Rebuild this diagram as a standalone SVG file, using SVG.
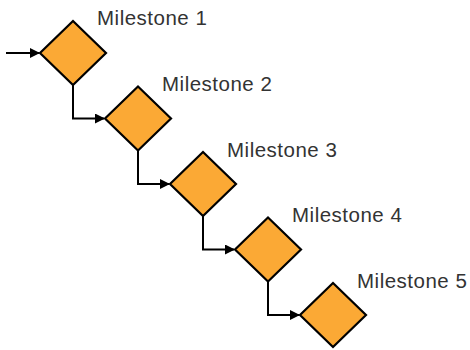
<svg xmlns="http://www.w3.org/2000/svg" width="470" height="350" viewBox="0 0 470 350">
<defs>
<style>
.d{fill:#FBA935;stroke:#000;stroke-width:2.2;stroke-linejoin:miter}
.t{font-family:"Liberation Sans",Arial,sans-serif;font-size:20.5px;fill:#333;letter-spacing:0.5px}
.c{fill:none;stroke:#000;stroke-width:2}
</style>
<marker id="a" markerWidth="10" markerHeight="10" refX="9" refY="5" orient="auto" markerUnits="userSpaceOnUse">
<path d="M0,0 L10,5 L0,10 Z" fill="#000"/>
</marker>
</defs>
<rect width="470" height="350" fill="#fff"/>
<g id="connectors">
<path class="c" d="M6,53 H39" marker-end="url(#a)"/>
<path class="c" d="M73,85 V118.5 H104" marker-end="url(#a)"/>
<path class="c" d="M138,150.5 V184 H169" marker-end="url(#a)"/>
<path class="c" d="M203,216 V249.5 H234" marker-end="url(#a)"/>
<path class="c" d="M268,281.5 V315 H299" marker-end="url(#a)"/>
</g>
<g id="m1"><path class="d" d="M73,21 L106,53 L73,85 L40,53 Z"/><text class="t" x="97" y="25">Milestone 1</text></g>
<g id="m2"><path class="d" d="M138,86.5 L171,118.5 L138,150.5 L105,118.5 Z"/><text class="t" x="162" y="90.75">Milestone 2</text></g>
<g id="m3"><path class="d" d="M203,152 L236,184 L203,216 L170,184 Z"/><text class="t" x="227" y="156.5">Milestone 3</text></g>
<g id="m4"><path class="d" d="M268,217.5 L301,249.5 L268,281.5 L235,249.5 Z"/><text class="t" x="292" y="222.25">Milestone 4</text></g>
<g id="m5"><path class="d" d="M333,283 L366,315 L333,347 L300,315 Z"/><text class="t" x="357" y="288">Milestone 5</text></g>
</svg>
